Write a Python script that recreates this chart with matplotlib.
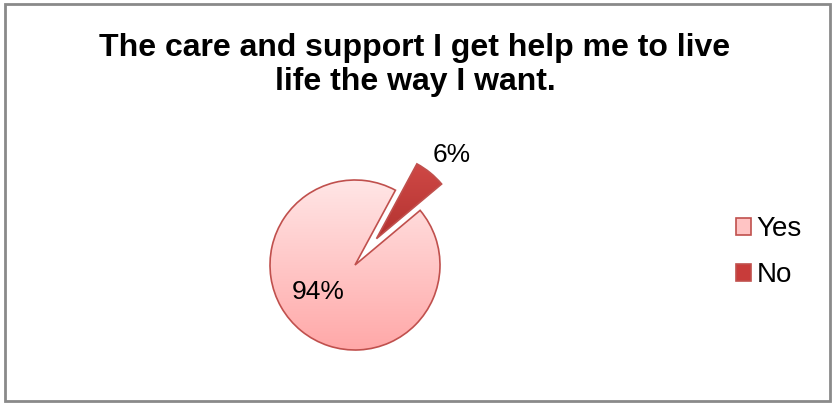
import numpy as np
import matplotlib
matplotlib.use("Agg")
import matplotlib.pyplot as plt
from matplotlib.patches import Rectangle
from matplotlib.colors import LinearSegmentedColormap

plt.rcParams["font.family"] = ["Liberation Sans", "DejaVu Sans"]

TITLE = "The care and support I get help me to live\nlife the way I want."
labels = ["Yes", "No"]
values = [94, 6]
explode_frac = [0, 0.4]

EDGE = "#C0504D"
YES_TOP = "#FFE6E6"
YES_BOT = "#FFA8A8"
NO_COL = "#C83C3A"

W, H = 832, 403
fig = plt.figure(figsize=(W / 100, H / 100), dpi=100)
ax = fig.add_axes([0, 0, 1, 1])

cx, cy, r = 355, H - 265, 85
wedges, texts = ax.pie(values, explode=[e * r for e in explode_frac],
                       center=(cx, cy), radius=r,
                       startangle=40, counterclock=False,
                       colors=[YES_BOT, NO_COL],
                       wedgeprops=dict(edgecolor=EDGE, linewidth=1.2),
                       frame=True)

# soft vertical gradient on the slices, Excel-style
grad = np.linspace(0, 1, 256).reshape(-1, 1)
cmap = LinearSegmentedColormap.from_list("pinkgrad", [YES_BOT, YES_TOP])
im = ax.imshow(grad, cmap=cmap, origin="lower", aspect="auto",
               extent=(cx - r, cx + r, cy - r, cy + r), zorder=1)
im.set_clip_path(wedges[0])
wedges[0].set_facecolor("none")
wedges[0].set_zorder(2)

cmap2 = LinearSegmentedColormap.from_list("redgrad", ["#A92B29", "#D9504D"])
im2 = ax.imshow(grad, cmap=cmap2, origin="lower", aspect="auto",
                extent=(cx, cx + r * 1.5, cy, cy + r * 1.5), zorder=1)
im2.set_clip_path(wedges[1])
wedges[1].set_facecolor("none")
wedges[1].set_zorder(2)
ax.set_xlim(0, W)
ax.set_ylim(0, H)
ax.set_aspect("equal")
ax.axis("off")

# percentage labels
ax.text(cx - 37, cy - 27, f"{values[0]}%", fontsize=19, ha="center", va="center")
ax.text(cx + 97, cy + 110, f"{values[1]}%", fontsize=19, ha="center", va="center")

fig.text(415 / W, 1 - 65 / H, TITLE, fontsize=23, fontweight="bold",
         ha="center", va="center", linespacing=1.17)

leg = ax.legend(wedges, labels, loc="center left", bbox_to_anchor=(736 / W, 1 - 252 / H),
                frameon=False, fontsize=20, handlelength=0.55, handleheight=0.55,
                handletextpad=0.2, labelspacing=0.72, borderpad=0, borderaxespad=0)
for h in leg.legend_handles:
    h.set_edgecolor(EDGE)
leg.legend_handles[0].set_facecolor("#FFC4C4")
leg.legend_handles[1].set_facecolor(NO_COL)

fig.patches.append(Rectangle((5 / W, 2 / H), 825 / W, 397 / H, transform=fig.transFigure,
                             fill=False, edgecolor="#8A8A8A", linewidth=2))

fig.savefig("out.png", dpi=100, facecolor="white")
